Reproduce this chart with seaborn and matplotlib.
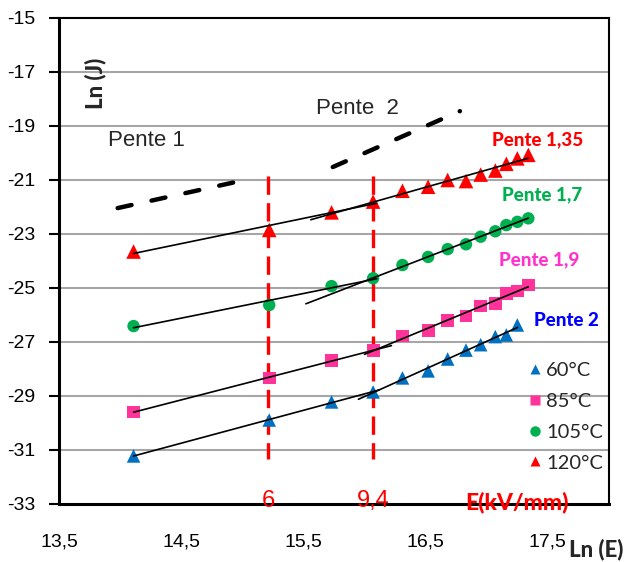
import numpy as np
import pandas as pd
import matplotlib
matplotlib.use("Agg")
import matplotlib.pyplot as plt
from matplotlib.lines import Line2D
import seaborn as sns

# ---------------- data ----------------
x_all = [14.11, 15.22, 15.73, 16.07, 16.31, 16.52, 16.68, 16.83, 16.95, 17.07, 17.16, 17.25, 17.34]
y_120 = [-23.65, -22.85, -22.2, -21.8, -21.4, -21.25, -21.0, -21.04, -20.8, -20.65, -20.4, -20.2, -20.07]
y_105 = [-26.41, -25.63, -24.93, -24.64, -24.15, -23.85, -23.56, -23.38, -23.1, -22.9, -22.67, -22.55, -22.42]
y_85 = [-29.59, -28.33, -27.7, -27.3, -26.78, -26.56, -26.19, -26.04, -25.67, -25.56, -25.19, -25.11, -24.89]
y_60 = [-31.22, -29.89, -29.22, -28.85, -28.33, -28.07, -27.63, -27.3, -27.1, -26.8, -26.74, -26.37]
temps = ["60°C", "85°C", "105°C", "120°C"]
slope_labels = ["Pente 2", "Pente 1,9", "Pente 1,7", "Pente 1,35"]
pente1_x = [13.98, 15.02]
pente1_y = [-22.04, -21.0]
pente2_x = [15.74, 16.78]
pente2_y = [-20.52, -18.45]
field_ln = [15.21, 16.07]
field_labels = ["6", "9,4"]
xticks = [13.5, 14.5, 15.5, 16.5, 17.5]
xtick_labels = ["13,5", "14,5", "15,5", "16,5", "17,5"]
yticks = [-33, -31, -29, -27, -25, -23, -21, -19, -17, -15]

series = {"60°C": y_60, "85°C": y_85, "105°C": y_105, "120°C": y_120}
rows = []
for t in temps:
    ys = series[t]
    for xv, yv in zip(x_all[:len(ys)], ys):
        rows.append({"lnE": xv, "lnJ": yv, "T": t})
df = pd.DataFrame(rows)

# ---------------- style ----------------
colors = {"60°C": "#0070C0", "85°C": "#FF3399", "105°C": "#00B050", "120°C": "#FF0000"}
markers = {"60°C": "^", "85°C": "s", "105°C": "o", "120°C": "^"}
msize = {"60°C": 95, "85°C": 85, "105°C": 80, "120°C": 110}
label_colors = {"60°C": "#0000FF", "85°C": "#FF33CC", "105°C": "#00B050", "120°C": "#FF0000"}
high_start = {"60°C": 15.95, "85°C": 16.0, "105°C": 15.52, "120°C": 15.56}
low_end = {"60°C": 16.12, "85°C": 16.22, "105°C": 16.1, "120°C": 16.1}

sns.set_theme(style="white")
plt.rcParams["font.family"] = ["Liberation Sans", "DejaVu Sans"]
calib = ["Lato", "DejaVu Sans"]

fig = plt.figure(figsize=(6.28, 5.62), dpi=100)
ax = fig.add_axes([59 / 628, 1 - 504 / 562, (609 - 59) / 628, (504 - 18) / 562])

ax.set_xlim(13.5, 18.0)
ax.set_ylim(-33, -15)

# gridlines
for yv in yticks[1:-1]:
    ax.axhline(yv, color="#A6A6A6", lw=1.5, zorder=0)

# trend lines (linear fits on low and high field ranges)
for t in temps:
    ys = np.array(series[t])
    xs = np.array(x_all[:len(ys)])
    p_low = np.polyfit(xs[:4], ys[:4], 1)
    p_high = np.polyfit(xs[3:], ys[3:], 1)
    xl = np.array([xs[0], low_end[t]])
    xh = np.array([high_start[t], xs[-1]])
    ax.plot(xl, np.polyval(p_low, xl), color="black", lw=1.2, zorder=4)
    ax.plot(xh, np.polyval(p_high, xh), color="black", lw=1.2, zorder=4)

# markers
for t in temps:
    sub = df[df["T"] == t]
    sns.scatterplot(data=sub, x="lnE", y="lnJ", color=colors[t], marker=markers[t],
                    s=msize[t], edgecolor="none", legend=False, ax=ax, zorder=3)

# red dashed vertical lines
for xv in field_ln:
    ax.plot([xv, xv], [-20.85, -31.35], color="#FF0000", lw=2.4, dashes=(5.5, 2.5), zorder=2)

# black dashed slope guides
for px, py in [(pente1_x, pente1_y), (pente2_x, pente2_y)]:
    ax.plot(px, py, color="black", lw=3.2, dashes=(3.2, 4.6), dash_capstyle="round",
            solid_capstyle="round", zorder=2)

# axes styling
ax.set_xticks(xticks)
ax.set_xticklabels(xtick_labels)
ax.set_yticks(yticks)
ax.set_yticklabels([str(v) for v in yticks])
ax.tick_params(axis="x", length=0, pad=21, labelsize=14, colors="black")
ax.tick_params(axis="y", length=7, width=1.5, pad=10, labelsize=14, colors="black", left=True)
ax.set_xlabel("")
ax.set_ylabel("")
for side in ["left", "bottom"]:
    ax.spines[side].set_linewidth(2.2)
    ax.spines[side].set_color("black")
for side in ["top", "right"]:
    ax.spines[side].set_linewidth(1.5)
    ax.spines[side].set_color("black")
    ax.spines[side].set_visible(True)

def ftext(px, py, s, **kw):
    fig.text(px / 628, 1 - py / 562, s, **kw)

# axis titles
ftext(95, 83, "Ln (J)", rotation=90, ha="center", va="center", fontsize=16,
      fontweight="black", family=calib)
ftext(596, 549, "Ln (E)", ha="center", va="center", fontsize=16, fontweight="black", family=calib)

# annotations
ftext(108, 140, "Pente 1", ha="left", va="center", fontsize=16)
ftext(316, 108, "Pente  2", ha="left", va="center", fontsize=16)
lab_pos = {"120°C": (492, 140), "105°C": (502, 195), "85°C": (499, 260), "60°C": (534, 320)}
for t, lab in zip(temps, slope_labels):
    px, py = lab_pos[t]
    ftext(px, py, lab, ha="left", va="center", fontsize=13.5, fontweight="black",
          color=label_colors[t], family=calib)
for xv, lab in zip(field_ln, field_labels):
    ax.text(xv, -32.9, lab, ha="center", va="center", fontsize=17, color="#FF0000")
ftext(517, 502, "E(kV/mm)", ha="center", va="center", fontsize=16.5, fontweight="black",
      color="#FF0000", family=calib)

# legend
handles = [Line2D([0], [0], marker=markers[t], color="none", markerfacecolor=colors[t],
                  markeredgecolor="none", markersize=7.5, label=t) for t in temps]
leg = fig.legend(handles=handles, loc="upper left", bbox_to_anchor=(517 / 628, 1 - 352 / 562),
                 frameon=False, handlelength=0.8, handletextpad=0.15,
                 labelspacing=0.68, borderpad=0, prop={"family": calib, "size": 14.5})

fig.savefig("out.png", dpi=100)
